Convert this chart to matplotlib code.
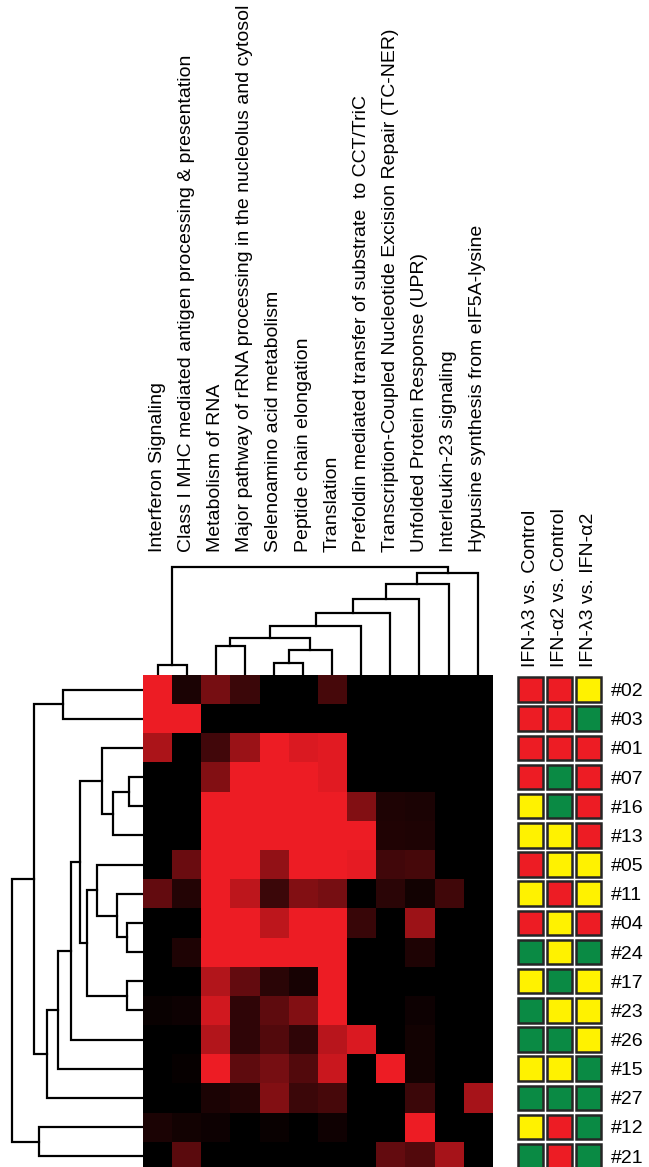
import numpy as np
import matplotlib
matplotlib.use("Agg")
import matplotlib.pyplot as plt
from matplotlib.colors import LinearSegmentedColormap
from matplotlib.patches import Rectangle

plt.rcParams['font.family'] = ['Liberation Sans', 'DejaVu Sans']

# pathways (heatmap columns, clustered order)
pathways = [
    "Interferon Signaling",
    "Class I MHC mediated antigen processing & presentation",
    "Metabolism of RNA",
    "Major pathway of rRNA processing in the nucleolus and cytosol",
    "Selenoamino acid metabolism",
    "Peptide chain elongation",
    "Translation",
    "Prefoldin mediated transfer of substrate  to CCT/TriC",
    "Transcription-Coupled Nucleotide Excision Repair (TC-NER)",
    "Unfolded Protein Response (UPR)",
    "Interleukin-23 signaling",
    "Hypusine synthesis from eIF5A-lysine",
]

# clusters (heatmap rows, clustered order)
clusters = ["#02", "#03", "#01", "#07", "#16", "#13", "#05", "#11", "#04",
            "#24", "#17", "#23", "#26", "#15", "#27", "#12", "#21"]

# enrichment, 0 = black, 1 = full red
enrich = np.array([
    [1.00, 0.12, 0.50, 0.25, 0.00, 0.00, 0.30, 0.00, 0.00, 0.00, 0.00, 0.00],
    [1.00, 1.00, 0.00, 0.00, 0.00, 0.00, 0.00, 0.00, 0.00, 0.00, 0.00, 0.00],
    [0.72, 0.00, 0.28, 0.65, 1.00, 0.92, 0.95, 0.00, 0.00, 0.00, 0.00, 0.00],
    [0.00, 0.00, 0.55, 1.00, 1.00, 1.00, 0.95, 0.00, 0.00, 0.00, 0.00, 0.00],
    [0.00, 0.00, 1.00, 1.00, 1.00, 1.00, 1.00, 0.55, 0.13, 0.12, 0.00, 0.00],
    [0.00, 0.00, 1.00, 1.00, 1.00, 1.00, 1.00, 1.00, 0.14, 0.13, 0.00, 0.00],
    [0.00, 0.45, 1.00, 1.00, 0.62, 1.00, 1.00, 0.97, 0.28, 0.30, 0.00, 0.00],
    [0.42, 0.15, 1.00, 0.80, 0.25, 0.55, 0.50, 0.00, 0.18, 0.08, 0.27, 0.00],
    [0.00, 0.00, 1.00, 1.00, 0.80, 1.00, 1.00, 0.24, 0.00, 0.66, 0.00, 0.00],
    [0.00, 0.13, 1.00, 1.00, 1.00, 1.00, 1.00, 0.00, 0.00, 0.13, 0.00, 0.00],
    [0.00, 0.00, 0.75, 0.42, 0.18, 0.10, 1.00, 0.00, 0.00, 0.00, 0.00, 0.00],
    [0.04, 0.06, 0.88, 0.20, 0.40, 0.55, 1.00, 0.00, 0.00, 0.06, 0.00, 0.00],
    [0.00, 0.00, 0.75, 0.20, 0.35, 0.20, 0.78, 0.92, 0.00, 0.08, 0.00, 0.00],
    [0.00, 0.03, 1.00, 0.40, 0.50, 0.35, 0.85, 0.00, 1.00, 0.08, 0.00, 0.00],
    [0.00, 0.00, 0.12, 0.15, 0.55, 0.25, 0.30, 0.00, 0.00, 0.25, 0.00, 0.70],
    [0.12, 0.08, 0.06, 0.00, 0.04, 0.00, 0.07, 0.00, 0.00, 1.00, 0.00, 0.00],
    [0.00, 0.38, 0.00, 0.00, 0.00, 0.00, 0.00, 0.00, 0.42, 0.35, 0.70, 0.00],
])

# linkage: (child a, child b, height); leaves are 0..n-1 in display order
row_link = [
    (0, 1, 79.7), (3, 4, 13.7), (18, 5, 30.3), (2, 19, 41.3),
    (8, 9, 16.3), (7, 21, 26.3), (6, 22, 46.3), (10, 11, 16.3),
    (23, 24, 55.7), (20, 25, 63.0), (26, 12, 72.3), (27, 13, 84.7),
    (28, 14, 96.3), (17, 29, 108.7), (15, 16, 103.7), (30, 31, 130.7),
]
col_link = [
    (0, 1, 10.0), (2, 3, 29.3), (4, 5, 12.3), (14, 6, 25.0),
    (13, 15, 36.7), (16, 7, 49.0), (17, 8, 61.7), (18, 9, 75.7),
    (19, 10, 91.0), (20, 11, 102.3), (12, 21, 107.7),
]

# comparison calls per cluster: R = up, G = down, Y = n.s.
comparisons = ["IFN-λ3 vs. Control", "IFN-α2 vs. Control", "IFN-λ3 vs. IFN-α2"]
calls = ["RRY", "RRG", "RRR", "RGR", "YGR", "YYR", "RYY", "YRY", "RYR",
         "GYG", "YGY", "GYY", "GGY", "YYG", "GGG", "YRG", "GRG"]
call_colors = {"R": "#ED1C24", "G": "#0A8A44", "Y": "#FFF200"}

W, H = 649, 1167
fig = plt.figure(figsize=(W / 100, H / 100), dpi=100)
FS = 14


def fr(x0, y0, w, h):
    # pixel box (top-left origin) -> figure fraction
    return [x0 / W, 1 - (y0 + h) / H, w / W, h / H]


def dendro(ax, link, n, orient):
    pos = {i: float(i) for i in range(n)}
    hgt = {i: 0.0 for i in range(n)}
    for k, (a, b, h) in enumerate(link):
        xs = [pos[a], pos[a], pos[b], pos[b]]
        ys = [hgt[a], h, h, hgt[b]]
        if orient == "left":
            ax.plot(ys, xs, color="black", lw=1.6, solid_joinstyle="miter")
        else:
            ax.plot(xs, ys, color="black", lw=1.6, solid_joinstyle="miter")
        pos[n + k] = (pos[a] + pos[b]) / 2
        hgt[n + k] = h


nr, nc = enrich.shape
cell = 29.1
top = 675
hm_h = nr * 29.16

# heatmap
ax_hm = fig.add_axes(fr(143, top, nc * cell, hm_h))
cmap = LinearSegmentedColormap.from_list("blkred", ["#000000", "#ED1C24"])
ax_hm.imshow(enrich, cmap=cmap, vmin=0, vmax=1, aspect="auto", interpolation="nearest")
ax_hm.set_xticks([])
ax_hm.set_yticks([])
for s in ax_hm.spines.values():
    s.set_visible(False)

# row dendrogram
ax_rd = fig.add_axes(fr(0, top, 143, hm_h))
dendro(ax_rd, row_link, nr, "left")
ax_rd.set_xlim(143, 0)
ax_rd.set_ylim(nr - 0.5, -0.5)
ax_rd.axis("off")

# column dendrogram + labels
ax_cd = fig.add_axes(fr(143, top - 115, nc * cell, 115))
dendro(ax_cd, col_link, nc, "top")
ax_cd.set_xlim(-0.5, nc - 0.5)
ax_cd.set_ylim(0, 115)
ax_cd.axis("off")
for j, name in enumerate(pathways):
    ax_cd.text(j, 123, name, rotation=90, ha="center", va="bottom",
               fontsize=FS, clip_on=False)

# comparison squares
ax_sq = fig.add_axes(fr(516, top, 3 * 29, hm_h))
for i, row in enumerate(calls):
    for j, c in enumerate(row):
        ax_sq.add_patch(Rectangle((j - 0.42, i - 0.42), 0.84, 0.84,
                                  facecolor=call_colors[c], edgecolor="#262626", lw=1.8))
ax_sq.set_xlim(-0.5, 2.5)
ax_sq.set_ylim(nr - 0.5, -0.5)
ax_sq.xaxis.tick_top()
ax_sq.set_xticks(range(3))
ax_sq.set_xticklabels(comparisons, rotation=90, fontsize=FS)
ax_sq.yaxis.tick_right()
ax_sq.set_yticks(range(nr))
ax_sq.set_yticklabels(clusters, fontsize=FS)
ax_sq.tick_params(length=0, pad=6)
for s in ax_sq.spines.values():
    s.set_visible(False)

fig.savefig("out.png", dpi=100, facecolor="white")
